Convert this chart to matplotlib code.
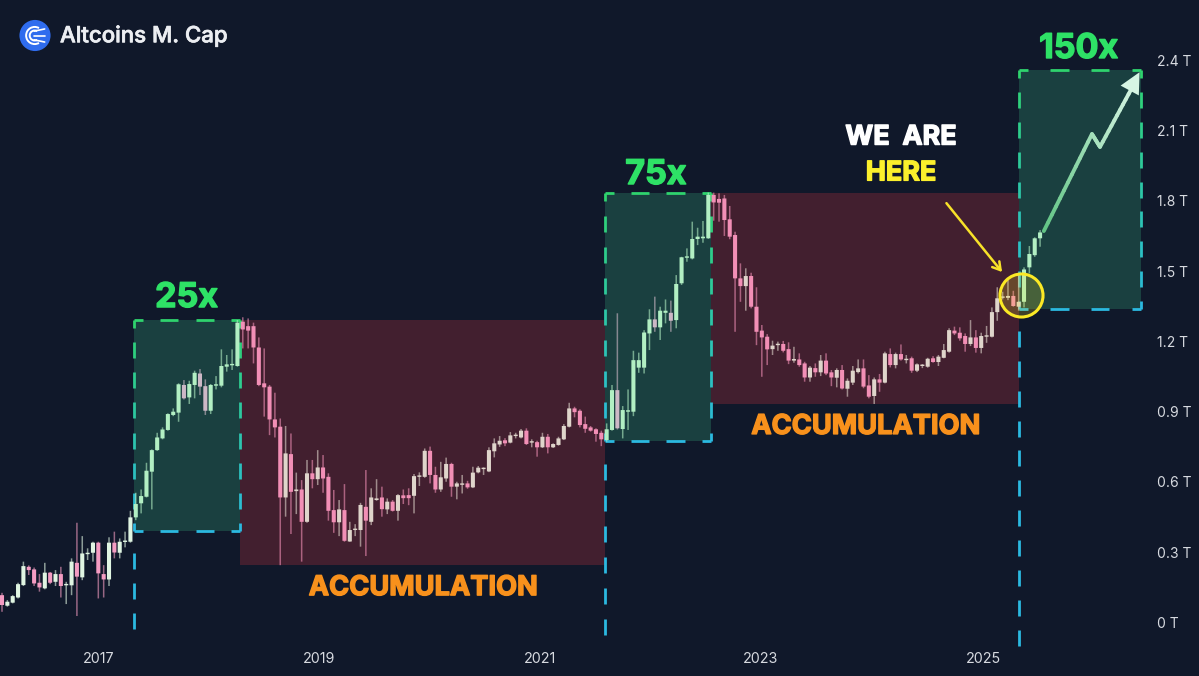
import numpy as np
import matplotlib
matplotlib.use('Agg')
import matplotlib.pyplot as plt
import matplotlib.patheffects as pe
from matplotlib.collections import LineCollection
from matplotlib.colors import to_rgb
from matplotlib.patches import Arc, Circle

# candles, values in trillions
opens = [.117, .072, .085, .107, .160, .238, .227, .170, .146, .213,
         .174, .207, .159, .159, .255, .193, .292, .298, .341, .207,
         .184, .341, .298, .344, .345, .449, .509, .537, .644, .736,
         .786, .822, .886, .896, 1.014, .961, 1.014, 1.063, 1.009, .904,
         1.011, 1.011, 1.092, 1.098, 1.095, 1.284, 1.265, 1.265, 1.174, 1.021,
         1.007, .867, .836, .534, .719, .561, .568, .430, .637, .612,
         .662, .622, .480, .428, .480, .346, .395, .395, .494, .430,
         .523, .534, .483, .516, .477, .543, .544, .541, .622, .622,
         .733, .630, .568, .615, .677, .580, .588, .594, .577, .641,
         .655, .645, .731, .760, .778, .768, .796, .790, .819, .768,
         .770, .748, .793, .748, .758, .782, .836, .914, .904, .847,
         .833, .825, .810, .779, .822, .992, .826, .900, .900, 1.088,
         1.088, 1.234, 1.294, 1.260, 1.322, 1.322, 1.291, 1.448, 1.557, 1.554,
         1.637, 1.640, 1.640, 1.825, 1.808, 1.810, 1.721, 1.654, 1.469, 1.436,
         1.479, 1.348, 1.246, 1.220, 1.167, 1.184, 1.189, 1.167, 1.118, 1.123,
         1.106, 1.046, 1.086, 1.068, 1.118, 1.068, 1.045, 1.078, .998, 1.024,
         1.069, 1.085, 1.012, .967, 1.038, 1.024, 1.146, 1.099, 1.146, 1.120,
         1.128, 1.075, 1.095, 1.092, 1.128, 1.112, 1.130, 1.156, 1.246, 1.237,
         1.223, 1.189, 1.217, 1.172, 1.220, 1.220, 1.325, 1.386, 1.386, 1.394,
         1.348, 1.369, 1.516, 1.568, 1.640]
highs = [.127, .096, .117, .170, .260, .244, .235, .207, .255, .216,
         .224, .238, .174, .274, .426, .369, .317, .345, .345, .245,
         .364, .388, .359, .388, .477, .554, .568, .682, .739, .810,
         .833, .893, .914, 1.021, 1.035, 1.032, 1.075, 1.082, 1.038, 1.018,
         1.052, 1.166, 1.142, 1.166, 1.291, 1.303, 1.298, 1.280, 1.217, 1.170,
         1.014, .981, .871, .839, .807, .640, .608, .694, .694, .736,
         .715, .637, .566, .523, .591, .430, .420, .511, .651, .573,
         .612, .580, .530, .523, .548, .568, .573, .634, .641, .743,
         .751, .665, .686, .704, .682, .601, .630, .605, .665, .668,
         .662, .748, .786, .796, .787, .813, .810, .826, .829, .782,
         .776, .810, .805, .765, .793, .847, .938, .921, .910, .879,
         .839, .829, .819, .850, 1.014, 1.320, .924, .995, 1.160, 1.152,
         1.248, 1.337, 1.391, 1.348, 1.379, 1.374, 1.483, 1.561, 1.597, 1.711,
         1.685, 1.714, 1.835, 1.835, 1.832, 1.825, 1.778, 1.668, 1.533, 1.512,
         1.493, 1.431, 1.270, 1.231, 1.203, 1.199, 1.202, 1.196, 1.177, 1.149,
         1.113, 1.095, 1.106, 1.142, 1.149, 1.078, 1.085, 1.099, 1.042, 1.095,
         1.123, 1.123, 1.056, 1.046, 1.061, 1.156, 1.170, 1.152, 1.187, 1.142,
         1.135, 1.106, 1.103, 1.130, 1.137, 1.142, 1.189, 1.256, 1.263, 1.260,
         1.234, 1.291, 1.248, 1.237, 1.266, 1.345, 1.431, 1.412, 1.462, 1.416,
         1.483, 1.516, 1.607, 1.644, 1.675]
lows = [.046, .068, .082, .103, .156, .203, .156, .132, .142, .164,
        .156, .107, .079, .117, .028, .181, .267, .260, .103, .107,
        .156, .274, .274, .321, .341, .437, .466, .534, .483, .733,
        .782, .819, .881, .857, .952, .933, .957, .971, .886, .890,
        .995, 1.004, 1.071, 1.078, 1.092, 1.170, 1.170, 1.106, 1.009, .879,
        .800, .790, .245, .452, .378, .463, .260, .426, .573, .587,
        .554, .435, .383, .369, .345, .345, .369, .324, .284, .416,
        .520, .452, .463, .474, .435, .506, .501, .466, .583, .618,
        .594, .554, .558, .601, .537, .526, .551, .571, .574, .637,
        .630, .642, .705, .750, .753, .765, .786, .786, .758, .748,
        .708, .745, .722, .745, .755, .779, .833, .876, .833, .810,
        .815, .772, .753, .772, .819, .824, .786, .822, .881, 1.066,
        1.063, 1.163, 1.241, 1.206, 1.277, 1.241, 1.256, 1.441, 1.540, 1.550,
        1.611, 1.621, 1.638, 1.715, 1.711, 1.650, 1.636, 1.241, 1.369, 1.331,
        1.341, 1.184, 1.049, 1.099, 1.142, 1.160, 1.153, 1.103, 1.109, 1.092,
        1.028, 1.028, 1.049, 1.052, 1.056, 1.009, 1.004, .995, .964, 1.014,
        1.063, 1.000, .957, .933, .985, 1.021, 1.089, 1.085, 1.118, 1.106,
        1.066, 1.069, 1.086, 1.088, 1.109, 1.095, 1.128, 1.152, 1.227, 1.203,
        1.156, 1.180, 1.152, 1.149, 1.194, 1.217, 1.288, 1.379, 1.376, 1.348,
        1.331, 1.345, 1.490, 1.561, 1.604]
closes = [.075, .089, .113, .164, .241, .224, .167, .150, .213, .170,
          .207, .156, .164, .260, .196, .295, .298, .341, .210, .184,
          .341, .299, .345, .349, .449, .506, .540, .648, .736, .790,
          .824, .890, .900, 1.017, .957, 1.018, 1.066, 1.007, .904, 1.014,
          1.017, 1.095, 1.102, 1.102, 1.280, 1.251, 1.246, 1.174, 1.014, 1.004,
          .867, .833, .534, .722, .558, .568, .430, .637, .612, .662,
          .615, .477, .428, .483, .349, .395, .399, .502, .435, .534,
          .530, .484, .516, .477, .544, .531, .531, .625, .627, .733,
          .630, .568, .620, .677, .580, .594, .591, .577, .640, .661,
          .659, .736, .765, .776, .765, .799, .800, .819, .762, .772,
          .748, .793, .748, .762, .786, .839, .914, .898, .843, .827,
          .819, .805, .782, .825, .992, .829, .907, .904, 1.120, 1.120,
          1.238, 1.294, 1.260, 1.331, 1.331, 1.288, 1.445, 1.559, 1.561, 1.637,
          1.647, 1.647, 1.825, 1.793, 1.792, 1.718, 1.647, 1.469, 1.436, 1.479,
          1.348, 1.241, 1.217, 1.166, 1.182, 1.190, 1.160, 1.118, 1.125, 1.099,
          1.046, 1.088, 1.068, 1.118, 1.063, 1.046, 1.078, .999, 1.032, 1.075,
          1.085, 1.007, .964, 1.038, 1.024, 1.149, 1.099, 1.146, 1.123, 1.125,
          1.075, 1.102, 1.099, 1.126, 1.112, 1.135, 1.163, 1.248, 1.234, 1.213,
          1.189, 1.217, 1.172, 1.223, 1.223, 1.325, 1.384, 1.391, 1.394, 1.351,
          1.369, 1.507, 1.573, 1.640, 1.665]

y_ticks = [0, .3, .6, .9, 1.2, 1.5, 1.8, 2.1, 2.4]
y_labels = ['0 T', '0.3 T', '0.6 T', '0.9 T', '1.2 T', '1.5 T', '1.8 T', '2.1 T', '2.4 T']
x_ticks = [18.1, 59.2, 100.5, 141.8, 183.5]
x_labels = ['2017', '2019', '2021', '2023', '2025']

# zones: left, right, top, bottom
green_zones = [(24.66, 44.47, 1.291, .391), (112.67, 132.47, 1.833, .775), (190.02, 212.8, 2.358, 1.338)]
red_zones = [(44.47, 112.67, 1.291, .245), (132.47, 190.02, 1.833, .933)]

path_x = [194.7, 203.7, 205.2, 211.6]
path_y = [1.671, 2.085, 2.030, 2.300]

BG = '#10182a'
GREEN = '#2fd36e'
CYAN = '#2bb9e0'


def candle_colors(i, up):
    for z in green_zones:
        if z[0] <= i <= z[1]:
            return '#b2efc3' if up else '#cdb8c6'
    for z in red_zones:
        if z[0] <= i <= z[1]:
            return '#dfd5cb' if up else '#f28fb6'
    return '#e0f5e2' if up else '#f49cc2'


def mix(frac):
    a, b = np.array(to_rgb(GREEN)), np.array(to_rgb(CYAN))
    return tuple(a + (b - a) * np.clip(frac, 0, 1))


def dashed_box(ax, left, right, top, bottom, y_end=None):
    segs, cols = [], []
    # horizontal edges
    n = int(round((right - left) / 6.54))
    for y in (top, bottom):
        c = mix(0.0 if y == top else 1.0)
        for k in range(n + 1):
            cx = left + k * (right - left) / n
            segs.append([(max(cx - 1.7, left), y), (min(cx + 1.7, right), y)])
            cols.append(c)
    # vertical edges
    m = int(round((top - bottom) / .128))
    step = (top - bottom) / m
    for x in (left, right):
        for k in range(m + 1):
            cy = top - k * step
            y0, y1 = max(cy - .034, bottom), min(cy + .034, top)
            segs.append([(x, y0), (x, y1)])
            cols.append(mix((top - cy) / (top - bottom)))
    # line running down to the time axis
    if y_end is not None:
        cy = bottom - step
        while cy > y_end:
            segs.append([(left, cy - .034), (left, cy + .034)])
            cols.append(mix(1.0))
            cy -= step
    ax.add_collection(LineCollection(segs, colors=cols, linewidths=2.0, capstyle='butt', zorder=2.5))


def big_text(x, y, s, color, size):
    t = ax.text(x, y, s, color=color, fontsize=size, fontweight='bold', family=text_font,
                ha='center', va='center', zorder=7)
    t.set_path_effects([pe.withStroke(linewidth=1.0, foreground=color)])


fig = plt.figure(figsize=(11.99, 6.76), dpi=100, facecolor=BG)
ax = fig.add_axes([0, 0, 1, 1], facecolor=BG)
ax.set_xlim(-.374, 223.7)
ax.set_ylim(-.228, 2.657)

for spine in ax.spines.values():
    spine.set_visible(False)

for z in green_zones:
    ax.fill_between([z[0], z[1]], z[3], z[2], color='#1a4040', lw=0, zorder=1)
for z in red_zones:
    ax.fill_between([z[0], z[1]], z[3], z[2], color='#421f2f', lw=0, zorder=1)

for z in green_zones:
    dashed_box(ax, z[0], z[1], z[2], z[3], y_end=-.075)

# candles
for i in range(len(opens)):
    up = closes[i] >= opens[i]
    col = candle_colors(i, up)
    ax.vlines(i, lows[i], highs[i], color=col, lw=1.1, alpha=.6, zorder=3, snap=False)
    low_body = min(opens[i], closes[i])
    height = max(abs(closes[i] - opens[i]), .006)
    ax.bar(i, height, bottom=low_body, width=.76, color=col, lw=0, zorder=3.2, snap=False)

# projected path, fades toward white
px = np.array(path_x)
py = np.array(path_y)
pts, cols = [], []
a, b = np.array(to_rgb('#63c486')), np.array(to_rgb('#d6f5e3'))
lens = np.hypot(np.diff(px) * 5.352, np.diff(py) * 234.3)
total = lens.sum()
done = 0.0
for j in range(3):
    for t0 in np.linspace(0, 1, 12, endpoint=False):
        t1 = t0 + 1 / 12
        pts.append([(px[j] + (px[j + 1] - px[j]) * t0, py[j] + (py[j + 1] - py[j]) * t0),
                    (px[j] + (px[j + 1] - px[j]) * t1, py[j] + (py[j + 1] - py[j]) * t1)])
        cols.append(tuple(a + (b - a) * (done + lens[j] * t0) / total))
    done += lens[j]
ax.add_collection(LineCollection(pts, colors=cols, linewidths=2.8, capstyle='round', zorder=5))
ax.annotate('', xy=(212.6, 2.349), xytext=(209.2, 2.205),
            arrowprops=dict(arrowstyle='-|>,head_length=1.25,head_width=.62', color='#d6f5e3', lw=0,
                            mutation_scale=12, shrinkA=0, shrinkB=0), zorder=6)

# we are here marker
ax.plot([190.4], [1.397], 'o', ms=31, mfc=(1, .91, .14, .2), mec='#fbe925', mew=2.2, zorder=6)
ax.annotate('', xy=(186.9, 1.496), xytext=(176.5, 1.790),
            arrowprops=dict(arrowstyle='->,head_length=.55,head_width=.33', color='#f7e229', lw=1.8,
                            shrinkA=0, shrinkB=0), zorder=6)

text_font = ['Inter', 'DejaVu Sans']
for x, y, s in [(34.5, 1.385, '25x'), (122.2, 1.91, '75x'), (201.2, 2.448, '150x')]:
    big_text(x, y, s, '#2ee266', 24.5)
for x, y, s in [(78.7, .147, 'ACCUMULATION'), (161.4, .835, 'ACCUMULATION')]:
    big_text(x, y, s, '#f8911c', 19.6)
big_text(168, 2.07, 'WE  ARE', '#ffffff', 19.4)
big_text(168, 1.917, 'HERE', '#fbef2c', 19.4)

# axes labels sit inside the frame
ax.yaxis.tick_right()
ax.set_yticks(y_ticks, y_labels)
ax.set_xticks(x_ticks, x_labels)
ax.tick_params(axis='y', length=0, pad=-30, labelsize=10, labelcolor='#d7dae0')
ax.tick_params(axis='x', length=0, pad=-17, labelsize=10.3, labelcolor='#d7dae0')
for lab in ax.get_xticklabels() + ax.get_yticklabels():
    lab.set_family(text_font)

# header
title = ax.text(60 / 1199, 1 - 36 / 676, 'Altcoins M. Cap', transform=ax.transAxes, color='#eceef2',
                fontsize=16, fontweight='medium', family=text_font, ha='left', va='center', zorder=7)
title.set_path_effects([pe.withStroke(linewidth=.5, foreground='#eceef2')])
icon = fig.add_axes([18.5 / 1199, 1 - 52 / 676, 33 / 1199, 33 / 676])
icon.set_xlim(-1.06, 1.06)
icon.set_ylim(-1.06, 1.06)
icon.axis('off')
icon.add_patch(Circle((0, 0), 1, color='#2f6cee', lw=0))
for r in (.55, .32):
    icon.add_patch(Arc((-.02, 0), r * 2, r * 2, theta1=60, theta2=300, color='white', lw=1.4))
for y0, y1 in [(.28, .42), (0, 0), (-.28, -.42)]:
    icon.plot([-.05, .62], [y0, y1], color='white', lw=1.2, solid_capstyle='round')

fig.savefig('out.png', dpi=100, facecolor=BG)
